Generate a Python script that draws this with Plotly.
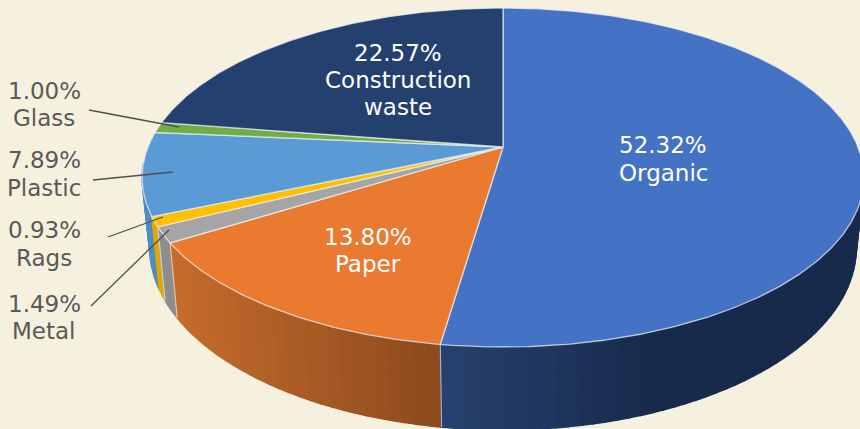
import numpy as np
import plotly.graph_objects as go

categories = ["Organic", "Paper", "Metal", "Rags", "Plastic", "Glass", "Construction waste"]
values = [52.32, 13.80, 1.49, 0.93, 7.89, 1.00, 22.57]
colors = ["#4472C4", "#E97A30", "#A5A5A5", "#FFC000", "#5B9BD5", "#70AD47", "#23406F"]
# side wall shade: colour at the left and right screen edge of each slice's wall
wall_left = ["#27426F", "#C66C2C", "#8E8E8E", "#E0A800", "#4F8CC4", "#5F9A3C", "#1E365F"]
wall_right = ["#182A4C", "#8C4A1E", "#8E8E8E", "#E0A800", "#4F8CC4", "#5F9A3C", "#1E365F"]

W, H = 860, 429
BG = "#F6F1DE"
CX, K = 503.0, 0.18
TOP = dict(cy=147.0, rx=355.0, ry=164.0)
BOT = dict(cy=214.6, rx=347.5, ry=176.5)


def rim(theta, g):
    X, Y = np.sin(theta), np.cos(theta)
    w = 1 + K * Y
    return CX + g["rx"] * X / w, g["cy"] - g["ry"] * Y / w


def mix(a, b, t):
    t = min(max(t, 0.0), 1.0)
    ca = [int(a[i:i + 2], 16) for i in (1, 3, 5)]
    cb = [int(b[i:i + 2], 16) for i in (1, 3, 5)]
    return "rgb(%d,%d,%d)" % tuple(round(p + (q - p) * t) for p, q in zip(ca, cb))


fig = go.Figure()
edges = np.concatenate([[0], np.cumsum(values)]) / sum(values) * 2 * np.pi

# side walls (back to front, only the half facing the viewer)
quads = []
for i in range(len(values)):
    lo, hi = max(edges[i], np.pi * 0.53), min(edges[i + 1], np.pi * 1.47)
    if hi <= lo:
        continue
    n = max(1, int((hi - lo) / 0.03))
    ts = np.linspace(lo, hi, n + 1)
    xa = min(rim(lo, BOT)[0], rim(hi, BOT)[0])
    xb = max(rim(lo, BOT)[0], rim(hi, BOT)[0])
    if i == 0:
        xb = 650.0
    for a, b in zip(ts[:-1], ts[1:]):
        xm = rim((a + b) / 2, BOT)[0]
        t = (xm - xa) / max(xb - xa, 1)
        quads.append((np.cos((a + b) / 2), a, b, mix(wall_left[i], wall_right[i], t)))
quads.sort(key=lambda q: -q[0])
for _, a, b, col in quads:
    x1, y1 = rim(np.linspace(a, b, 5), TOP)
    x2, y2 = rim(np.linspace(b, a, 5), BOT)
    fig.add_trace(go.Scatter(
        x=list(x1) + list(x2) + [x1[0]], y=list(y1) + list(y2) + [y1[0]],
        mode="lines", fill="toself", fillcolor=col,
        line=dict(color=col, width=1.5), hoverinfo="skip", showlegend=False))

# pale seams between wall faces
for i in [0, 1, 2]:
    xt, yt = rim(edges[i + 1], TOP)
    xb, yb = rim(edges[i + 1], BOT)
    fig.add_trace(go.Scatter(
        x=[xt, xb], y=[yt, yb], mode="lines",
        line=dict(color="rgba(255,255,255,0.6)", width=1.2),
        hoverinfo="skip", showlegend=False))

# top faces
for i, c in enumerate(colors):
    ts = np.linspace(edges[i], edges[i + 1], max(3, int((edges[i + 1] - edges[i]) / 0.01)))
    xs, ys = rim(ts, TOP)
    fig.add_trace(go.Scatter(
        x=[CX] + list(xs) + [CX], y=[TOP["cy"]] + list(ys) + [TOP["cy"]],
        mode="lines", fill="toself", fillcolor=c,
        line=dict(color="rgba(235,238,240,0.75)", width=1.3),
        name=categories[i], hoverinfo="skip", showlegend=False))

# leader lines
leaders = {
    "Glass": ((89, 110), (179, 127)),
    "Plastic": ((93, 180), (173, 172)),
    "Rags": ((108, 237), (163, 217)),
    "Metal": ((91, 306), (169, 230)),
}
for (x0, y0), (x1, y1) in leaders.values():
    fig.add_trace(go.Scatter(x=[x0, x1], y=[y0, y1], mode="lines",
                             line=dict(color="#505050", width=1.3),
                             hoverinfo="skip", showlegend=False))

FONT = "DejaVu Sans"
label_lines = {
    "Organic": (663, [145, 173], ["Organic"], "#FFFFFF"),
    "Paper": (368, [237, 264], ["Paper"], "#FFFFFF"),
    "Construction waste": (398, [53, 80, 107], ["Construction", "waste"], "#FFFFFF"),
    "Glass": (44, [90.5, 117.5], ["Glass"], "#595959"),
    "Plastic": (44, [160, 188], ["Plastic"], "#595959"),
    "Rags": (44, [230, 258], ["Rags"], "#595959"),
    "Metal": (44, [303.5, 330.5], ["Metal"], "#595959"),
}
for name, val in zip(categories, values):
    x, ys, words, col = label_lines[name]
    for y, text in zip(ys, [f"{val:.2f}%"] + words):
        fig.add_annotation(x=x, y=y, text=text, showarrow=False, xanchor="center",
                           yanchor="middle", font=dict(family=FONT, size=23, color=col))

fig.update_layout(
    width=W, height=H, margin=dict(l=0, r=0, t=0, b=0),
    paper_bgcolor=BG, plot_bgcolor=BG, showlegend=False,
    xaxis=dict(range=[0, W], visible=False, fixedrange=True),
    yaxis=dict(range=[H, 0], visible=False, fixedrange=True),
)
fig.write_html(
    "out.html", config={"displayModeBar": False},
    post_script="document.body.style.margin='0';document.body.style.background='%s';"
                "document.documentElement.style.overflow='hidden';" % BG,
)
